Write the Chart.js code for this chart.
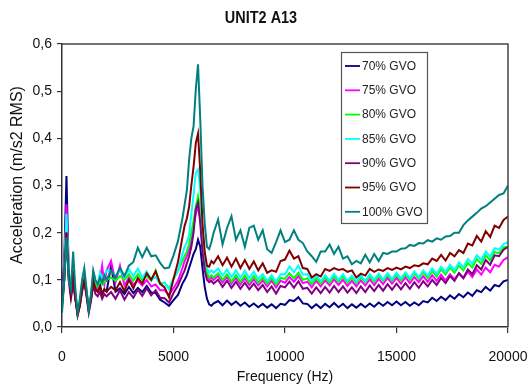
<!DOCTYPE html>
<html><head><meta charset="utf-8">
<script src="https://cdn.jsdelivr.net/npm/chart.js@4"></script>
<style>html,body{margin:0;padding:0;background:#fff;overflow:hidden}</style>
</head><body>
<canvas id="c" width="529" height="387"></canvas>
<script>
const chartTitle = 'UNIT2 A13';
const xTitle = 'Frequency (Hz)';
const yTitle = 'Acceleration (m/s2 RMS)';
const seriesNames = ['70% GVO','75% GVO','80% GVO','85% GVO','90% GVO','95% GVO','100% GVO'];
const seriesColors = ['#000080','#FF00FF','#00FF00','#00FFFF','#800080','#800000','#008080'];
const xTicks = [0, 5000, 10000, 15000, 20000];
const yTicks = [0, 0.1, 0.2, 0.3, 0.4, 0.5, 0.6];

const freq = [
 0,100,200,300,400,500,600,700,800,900,1000,1100,1200,1300,1400,1500,1600,1700,1800,1900,2000,
 2200,2400,2600,2800,3000,3200,3400,3600,3800,4000,4200,4400,4600,4800,5000,5200,5400,
 5500,5600,5700,5800,5900,6000,6100,6200,6300,6400,6500,6600,6700,6800,
 7000,7200,7400,7600,7800,8000,8200,8400,8600,8800,
 9000,9200,9400,9600,9800,10000,10200,10400,10600,10800,
 11000,11200,11400,11600,11800,12000,12200,12400,12600,12800,
 13000,13200,13400,13600,13800,14000,14200,14400,14600,14800,
 15000,15200,15400,15600,15800,16000,16200,16400,16600,16800,
 17000,17200,17400,17600,17800,18000,18200,18400,18600,18800,
 19000,19200,19400,19600,19800,20000
];

const gvo70 = [
 0.06,0.14,0.32,0.12,0.07,0.10,0.06,0.03,0.05,0.08,0.10,0.07,0.04,0.06,0.10,0.08,0.075,0.09,0.07,0.08,0.075,
 0.13,0.075,0.082,0.07,0.085,0.072,0.083,0.074,0.087,0.073,0.072,0.058,0.052,0.045,0.057,0.068,0.092,
 0.10,0.11,0.125,0.14,0.155,0.165,0.185,0.17,0.125,0.085,0.06,0.048,0.045,0.05,
 0.055,0.046,0.056,0.047,0.054,0.045,0.052,0.043,0.050,0.042,
 0.049,0.041,0.048,0.040,0.049,0.047,0.057,0.055,0.063,0.050,
 0.049,0.040,0.048,0.040,0.049,0.042,0.051,0.042,0.049,0.040,
 0.048,0.041,0.049,0.042,0.050,0.043,0.052,0.045,0.053,0.046,
 0.054,0.046,0.053,0.045,0.052,0.046,0.055,0.052,0.062,0.055,
 0.064,0.057,0.067,0.060,0.070,0.063,0.073,0.066,0.078,0.074,
 0.085,0.077,0.089,0.086,0.097,0.100
];
const gvo75 = [
 0.05,0.12,0.26,0.11,0.07,0.10,0.065,0.03,0.05,0.085,0.10,0.075,0.04,0.065,0.11,0.085,0.08,0.10,0.13,0.09,0.12,
 0.14,0.095,0.13,0.088,0.105,0.09,0.098,0.088,0.1,0.086,0.09,0.078,0.078,0.068,0.082,0.098,0.125,
 0.14,0.15,0.165,0.19,0.215,0.24,0.255,0.23,0.17,0.13,0.11,0.10,0.105,0.10,
 0.108,0.094,0.106,0.092,0.104,0.090,0.103,0.089,0.101,0.088,
 0.099,0.086,0.098,0.084,0.098,0.094,0.106,0.096,0.108,0.093,
 0.096,0.084,0.098,0.086,0.099,0.088,0.101,0.089,0.100,0.087,
 0.098,0.086,0.099,0.088,0.101,0.089,0.102,0.091,0.104,0.092,
 0.104,0.092,0.105,0.093,0.106,0.095,0.108,0.096,0.110,0.098,
 0.111,0.099,0.112,0.101,0.114,0.103,0.117,0.106,0.122,0.111,
 0.126,0.116,0.132,0.128,0.142,0.148
];
const gvo80 = [
 0.04,0.10,0.22,0.11,0.07,0.10,0.07,0.03,0.05,0.09,0.11,0.075,0.035,0.06,0.10,0.09,0.085,0.10,0.09,0.095,0.10,
 0.105,0.098,0.108,0.1,0.112,0.098,0.112,0.1,0.108,0.098,0.12,0.092,0.094,0.082,0.102,0.118,0.14,
 0.15,0.16,0.175,0.20,0.225,0.255,0.277,0.25,0.18,0.14,0.115,0.105,0.11,0.105,
 0.114,0.100,0.112,0.096,0.110,0.096,0.109,0.095,0.108,0.094,
 0.105,0.092,0.104,0.090,0.104,0.102,0.114,0.103,0.115,0.100,
 0.103,0.091,0.104,0.092,0.105,0.094,0.108,0.096,0.107,0.094,
 0.105,0.093,0.106,0.095,0.108,0.096,0.109,0.098,0.110,0.099,
 0.111,0.099,0.112,0.100,0.114,0.102,0.116,0.104,0.119,0.107,
 0.122,0.111,0.126,0.115,0.130,0.120,0.136,0.126,0.144,0.134,
 0.152,0.141,0.159,0.156,0.169,0.170
];
const gvo85 = [
 0.04,0.11,0.24,0.12,0.075,0.11,0.07,0.03,0.05,0.09,0.115,0.08,0.035,0.065,0.11,0.095,0.09,0.115,0.10,0.11,0.12,
 0.118,0.108,0.12,0.106,0.122,0.108,0.124,0.105,0.118,0.1,0.106,0.09,0.094,0.08,0.104,0.118,0.155,
 0.17,0.18,0.195,0.24,0.28,0.327,0.334,0.29,0.20,0.15,0.125,0.115,0.12,0.115,
 0.124,0.109,0.122,0.106,0.120,0.105,0.119,0.104,0.117,0.102,
 0.112,0.098,0.110,0.096,0.112,0.112,0.128,0.116,0.130,0.111,
 0.112,0.098,0.111,0.097,0.110,0.099,0.113,0.100,0.112,0.098,
 0.109,0.097,0.110,0.098,0.112,0.100,0.113,0.101,0.114,0.102,
 0.115,0.103,0.116,0.104,0.118,0.106,0.120,0.109,0.124,0.113,
 0.128,0.117,0.132,0.121,0.137,0.127,0.144,0.134,0.152,0.142,
 0.160,0.149,0.167,0.164,0.176,0.180
];
const gvo90 = [
 0.05,0.10,0.20,0.10,0.06,0.09,0.06,0.025,0.045,0.075,0.095,0.065,0.03,0.055,0.09,0.07,0.065,0.075,0.06,0.07,0.065,
 0.074,0.06,0.078,0.058,0.074,0.062,0.079,0.066,0.082,0.067,0.078,0.062,0.061,0.052,0.072,0.088,0.11,
 0.12,0.135,0.15,0.17,0.20,0.25,0.264,0.22,0.16,0.12,0.10,0.095,0.098,0.092,
 0.100,0.085,0.098,0.083,0.096,0.081,0.094,0.080,0.092,0.078,
 0.089,0.074,0.086,0.071,0.087,0.084,0.096,0.083,0.097,0.081,
 0.083,0.071,0.084,0.072,0.085,0.073,0.087,0.074,0.086,0.073,
 0.084,0.072,0.086,0.074,0.088,0.076,0.089,0.077,0.091,0.079,
 0.092,0.080,0.093,0.081,0.095,0.083,0.097,0.086,0.100,0.089,
 0.104,0.093,0.108,0.098,0.114,0.104,0.122,0.112,0.131,0.122,
 0.142,0.132,0.152,0.150,0.164,0.170
];
const gvo95 = [
 0.045,0.10,0.20,0.11,0.07,0.12,0.06,0.025,0.045,0.08,0.10,0.07,0.035,0.06,0.10,0.08,0.075,0.085,0.07,0.08,0.075,
 0.085,0.078,0.095,0.076,0.1,0.082,0.104,0.092,0.114,0.1,0.118,0.092,0.084,0.063,0.102,0.138,0.19,
 0.215,0.23,0.255,0.30,0.34,0.39,0.41,0.33,0.22,0.16,0.13,0.128,0.14,0.135,
 0.150,0.131,0.147,0.128,0.145,0.125,0.142,0.123,0.139,0.120,
 0.135,0.115,0.120,0.117,0.140,0.143,0.162,0.145,0.150,0.125,
 0.123,0.105,0.112,0.107,0.123,0.119,0.125,0.121,0.123,0.117,
 0.120,0.105,0.113,0.109,0.123,0.117,0.122,0.119,0.125,0.121,
 0.126,0.122,0.128,0.125,0.131,0.129,0.135,0.133,0.145,0.140,
 0.153,0.141,0.157,0.150,0.163,0.157,0.177,0.173,0.193,0.181,
 0.203,0.191,0.215,0.210,0.227,0.234
];
const gvo100 = [
 0.03,0.10,0.19,0.10,0.08,0.16,0.08,0.03,0.06,0.10,0.125,0.08,0.035,0.07,0.12,0.10,0.09,0.105,0.095,0.11,0.10,
 0.12,0.105,0.125,0.108,0.13,0.138,0.168,0.148,0.168,0.15,0.152,0.136,0.124,0.126,0.152,0.182,0.23,
 0.26,0.29,0.355,0.40,0.426,0.504,0.557,0.44,0.30,0.22,0.17,0.165,0.18,0.20,
 0.228,0.175,0.210,0.235,0.185,0.205,0.170,0.210,0.215,0.185,
 0.205,0.165,0.157,0.180,0.205,0.180,0.185,0.205,0.185,0.178,
 0.160,0.150,0.138,0.160,0.160,0.175,0.155,0.170,0.145,0.150,
 0.133,0.140,0.135,0.153,0.137,0.155,0.140,0.157,0.155,0.160,
 0.160,0.166,0.167,0.174,0.172,0.178,0.177,0.184,0.181,0.188,
 0.185,0.192,0.193,0.200,0.200,0.216,0.226,0.234,0.242,0.251,
 0.256,0.264,0.272,0.280,0.283,0.300
];
const seriesValues = [gvo70, gvo75, gvo80, gvo85, gvo90, gvo95, gvo100];

const FONT = "'Liberation Sans', Arial, sans-serif";

const datasets = seriesValues.map((vals, i) => ({
  label: seriesNames[i],
  data: freq.map((f, k) => ({ x: f, y: vals[k] })),
  borderColor: seriesColors[i],
  backgroundColor: seriesColors[i],
  borderWidth: 2,
  pointRadius: 0,
  tension: 0,
  order: seriesValues.length - 1 - i
}));

const decor = {
  id: 'decor',
  afterDatasetsDraw(chart) {
    const { ctx, chartArea: a } = chart;
    ctx.save();
    ctx.strokeStyle = '#444';
    ctx.lineWidth = 1.5;
    ctx.beginPath();
    ctx.moveTo(a.left, a.top);
    ctx.lineTo(a.right, a.top);
    ctx.lineTo(a.right, a.bottom);
    ctx.stroke();
    ctx.restore();
  },
  afterDraw(chart) {
    const { ctx } = chart;
    ctx.save();
    // title (condensed bold)
    ctx.save();
    ctx.fillStyle = '#111';
    ctx.font = 'bold 17px ' + FONT;
    ctx.textAlign = 'center';
    ctx.textBaseline = 'middle';
    ctx.translate(261, 18);
    ctx.scale(0.85, 1);
    ctx.fillText(chartTitle, 0, 0);
    ctx.restore();
    // y title
    ctx.save();
    ctx.fillStyle = '#111';
    ctx.textAlign = 'center';
    ctx.textBaseline = 'middle';
    ctx.translate(18, 175);
    ctx.rotate(-Math.PI / 2);
    ctx.font = '16px ' + FONT;
    ctx.fillText(yTitle, 0, 0);
    ctx.restore();
    // legend box
    const x0 = 341, y0 = 52, w = 86, h = 171;
    ctx.fillStyle = '#fff';
    ctx.fillRect(x0, y0, w, h);
    ctx.strokeStyle = '#555';
    ctx.lineWidth = 1.2;
    ctx.strokeRect(x0 + 0.5, y0 + 0.5, w, h);
    ctx.font = '12px ' + FONT;
    ctx.textAlign = 'left';
    ctx.textBaseline = 'middle';
    chart.data.datasets.forEach((ds, i) => {
      const y = 66 + i * 24.3;
      ctx.strokeStyle = ds.borderColor;
      ctx.lineWidth = 1.8;
      ctx.beginPath();
      ctx.moveTo(345, y);
      ctx.lineTo(360, y);
      ctx.stroke();
      ctx.fillStyle = '#222';
      ctx.fillText(ds.label, 362, y + 0.5);
    });
    ctx.restore();
  }
};

new Chart(document.getElementById('c'), {
  type: 'line',
  data: { datasets },
  options: {
    responsive: false,
    animation: false,
    layout: { padding: { left: 0, right: 21, top: 44, bottom: 0 } },
    plugins: { legend: { display: false }, tooltip: { enabled: false }, title: { display: false } },
    scales: {
      x: {
        type: 'linear', min: 0, max: 20000,
        afterBuildTicks: s => { s.ticks = xTicks.map(v => ({ value: v })); },
        afterFit: s => { s.height = 60; s.paddingLeft = 0; s.paddingRight = 0; },
        grid: { drawOnChartArea: false, drawTicks: true, tickLength: 6, color: '#333', lineWidth: 1.2 },
        border: { display: true, color: '#333', width: 1.5 },
        ticks: { color: '#111', font: { family: FONT, size: 14 }, padding: 16, maxRotation: 0, callback: v => String(v) },
        title: { display: true, text: xTitle, color: '#111', font: { family: FONT, size: 14 }, padding: { top: 0, bottom: 1 } }
      },
      y: {
        type: 'linear', min: 0, max: 0.6,
        afterBuildTicks: s => { s.ticks = yTicks.map(v => ({ value: v })); },
        afterFit: s => { s.width = 62; s.paddingTop = 0; s.paddingBottom = 0; },
        grid: { drawOnChartArea: false, drawTicks: true, tickLength: 5, color: '#333', lineWidth: 1.2 },
        border: { display: true, color: '#333', width: 1.5 },
        ticks: { color: '#111', font: { family: FONT, size: 14 }, padding: 5, callback: v => v.toFixed(1).replace('.', ',') }
      }
    }
  },
  plugins: [decor]
});
</script>
</body></html>
